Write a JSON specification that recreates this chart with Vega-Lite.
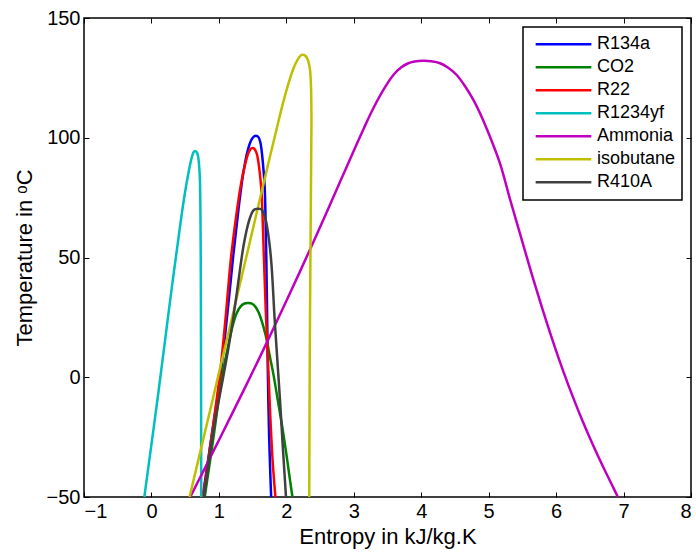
{
  "$schema": "https://vega.github.io/schema/vega-lite/v6.json",
  "width": 607,
  "height": 479,
  "autosize": {"type": "none"},
  "padding": {"left": 84, "top": 18, "right": 5, "bottom": 56},
  "background": "white",
  "config": {
    "font": "Liberation Sans",
    "view": {"stroke": "black", "strokeWidth": 1.5},
    "axis": {"grid": false, "domain": false, "tickColor": "black", "tickSize": -5, "tickWidth": 1, "labelColor": "black", "labelFontSize": 20, "labelFont": "Liberation Sans", "titleFont": "Liberation Sans", "titleFontWeight": "normal", "titleColor": "black", "titleFontSize": 22}
  },
  "data": {"values": [
    {"f":"R134a","i":0,"s":0.76,"T":-50},{"f":"R134a","i":1,"s":0.89,"T":-25},{"f":"R134a","i":2,"s":1.02,"T":0},{"f":"R134a","i":3,"s":1.12,"T":25},{"f":"R134a","i":4,"s":1.21,"T":50},{"f":"R134a","i":5,"s":1.29,"T":70},{"f":"R134a","i":6,"s":1.36,"T":85},{"f":"R134a","i":7,"s":1.43,"T":95},{"f":"R134a","i":8,"s":1.49,"T":99.5},{"f":"R134a","i":9,"s":1.52,"T":100.5},{"f":"R134a","i":10,"s":1.55,"T":100.8},{"f":"R134a","i":11,"s":1.585,"T":100.3},{"f":"R134a","i":12,"s":1.615,"T":98},{"f":"R134a","i":13,"s":1.64,"T":93},{"f":"R134a","i":14,"s":1.66,"T":87},{"f":"R134a","i":15,"s":1.678,"T":80},{"f":"R134a","i":16,"s":1.693,"T":65},{"f":"R134a","i":17,"s":1.703,"T":50},{"f":"R134a","i":18,"s":1.711,"T":35},{"f":"R134a","i":19,"s":1.718,"T":20},{"f":"R134a","i":20,"s":1.727,"T":0},{"f":"R134a","i":21,"s":1.745,"T":-25},{"f":"R134a","i":22,"s":1.762,"T":-40},{"f":"R134a","i":23,"s":1.775,"T":-50},

    {"f":"CO2","i":0,"s":0.79,"T":-50},{"f":"CO2","i":1,"s":0.92,"T":-25},{"f":"CO2","i":2,"s":1.045,"T":0},{"f":"CO2","i":3,"s":1.13,"T":12},{"f":"CO2","i":4,"s":1.2,"T":21},{"f":"CO2","i":5,"s":1.26,"T":26.5},{"f":"CO2","i":6,"s":1.32,"T":29.5},{"f":"CO2","i":7,"s":1.38,"T":30.8},{"f":"CO2","i":8,"s":1.436,"T":31},{"f":"CO2","i":9,"s":1.49,"T":30.7},{"f":"CO2","i":10,"s":1.54,"T":29.5},{"f":"CO2","i":11,"s":1.59,"T":27},{"f":"CO2","i":12,"s":1.64,"T":23},{"f":"CO2","i":13,"s":1.68,"T":19},{"f":"CO2","i":14,"s":1.71,"T":15.5},{"f":"CO2","i":15,"s":1.76,"T":8},{"f":"CO2","i":16,"s":1.81,"T":1},{"f":"CO2","i":17,"s":1.87,"T":-9},{"f":"CO2","i":18,"s":1.93,"T":-19},{"f":"CO2","i":19,"s":1.99,"T":-30},{"f":"CO2","i":20,"s":2.04,"T":-40},{"f":"CO2","i":21,"s":2.09,"T":-50},

    {"f":"R22","i":0,"s":0.765,"T":-50},{"f":"R22","i":1,"s":0.89,"T":-25},{"f":"R22","i":2,"s":1.01,"T":0},{"f":"R22","i":3,"s":1.1,"T":25},{"f":"R22","i":4,"s":1.18,"T":50},{"f":"R22","i":5,"s":1.26,"T":68},{"f":"R22","i":6,"s":1.33,"T":81},{"f":"R22","i":7,"s":1.39,"T":89},{"f":"R22","i":8,"s":1.44,"T":93.8},{"f":"R22","i":9,"s":1.47,"T":95.3},{"f":"R22","i":10,"s":1.496,"T":95.7},{"f":"R22","i":11,"s":1.525,"T":95.4},{"f":"R22","i":12,"s":1.56,"T":93.5},{"f":"R22","i":13,"s":1.59,"T":89},{"f":"R22","i":14,"s":1.615,"T":83},{"f":"R22","i":15,"s":1.635,"T":76},{"f":"R22","i":16,"s":1.65,"T":65},{"f":"R22","i":17,"s":1.665,"T":52},{"f":"R22","i":18,"s":1.68,"T":40},{"f":"R22","i":19,"s":1.695,"T":28},{"f":"R22","i":20,"s":1.715,"T":15},{"f":"R22","i":21,"s":1.735,"T":2},{"f":"R22","i":22,"s":1.76,"T":-15},{"f":"R22","i":23,"s":1.79,"T":-32},{"f":"R22","i":24,"s":1.815,"T":-42},{"f":"R22","i":25,"s":1.838,"T":-50},

    {"f":"R1234yf","i":0,"s":-0.105,"T":-50},{"f":"R1234yf","i":1,"s":0.0,"T":-28},{"f":"R1234yf","i":2,"s":0.1,"T":-7},{"f":"R1234yf","i":3,"s":0.2,"T":15},{"f":"R1234yf","i":4,"s":0.3,"T":37},{"f":"R1234yf","i":5,"s":0.4,"T":58},{"f":"R1234yf","i":6,"s":0.48,"T":74},{"f":"R1234yf","i":7,"s":0.55,"T":85.5},{"f":"R1234yf","i":8,"s":0.6,"T":92},{"f":"R1234yf","i":9,"s":0.625,"T":94},{"f":"R1234yf","i":10,"s":0.646,"T":94.5},{"f":"R1234yf","i":11,"s":0.67,"T":94},{"f":"R1234yf","i":12,"s":0.69,"T":92.5},{"f":"R1234yf","i":13,"s":0.705,"T":89},{"f":"R1234yf","i":14,"s":0.718,"T":83},{"f":"R1234yf","i":15,"s":0.726,"T":70},{"f":"R1234yf","i":16,"s":0.731,"T":50},{"f":"R1234yf","i":17,"s":0.734,"T":20},{"f":"R1234yf","i":18,"s":0.736,"T":-10},{"f":"R1234yf","i":19,"s":0.738,"T":-50},

    {"f":"Ammonia","i":0,"s":0.575,"T":-50},{"f":"Ammonia","i":1,"s":0.8,"T":-37.5},{"f":"Ammonia","i":2,"s":1.0,"T":-26.3},{"f":"Ammonia","i":3,"s":1.2,"T":-15},{"f":"Ammonia","i":4,"s":1.4,"T":-3.6},{"f":"Ammonia","i":5,"s":1.6,"T":8},{"f":"Ammonia","i":6,"s":1.8,"T":19.8},{"f":"Ammonia","i":7,"s":2.0,"T":31.8},{"f":"Ammonia","i":8,"s":2.2,"T":44},{"f":"Ammonia","i":9,"s":2.4,"T":56.4},{"f":"Ammonia","i":10,"s":2.6,"T":69},{"f":"Ammonia","i":11,"s":2.8,"T":81.8},{"f":"Ammonia","i":12,"s":3.0,"T":94.6},{"f":"Ammonia","i":13,"s":3.15,"T":104},{"f":"Ammonia","i":14,"s":3.29,"T":112.3},{"f":"Ammonia","i":15,"s":3.45,"T":120.5},{"f":"Ammonia","i":16,"s":3.587,"T":126.2},{"f":"Ammonia","i":17,"s":3.7,"T":129.3},{"f":"Ammonia","i":18,"s":3.8,"T":131},{"f":"Ammonia","i":19,"s":3.9,"T":131.8},{"f":"Ammonia","i":20,"s":4.03,"T":132.1},{"f":"Ammonia","i":21,"s":4.15,"T":131.9},{"f":"Ammonia","i":22,"s":4.279,"T":131.1},{"f":"Ammonia","i":23,"s":4.4,"T":129.2},{"f":"Ammonia","i":24,"s":4.526,"T":126.2},{"f":"Ammonia","i":25,"s":4.65,"T":121.5},{"f":"Ammonia","i":26,"s":4.773,"T":115.8},{"f":"Ammonia","i":27,"s":4.9,"T":108.5},{"f":"Ammonia","i":28,"s":5.02,"T":100.4},{"f":"Ammonia","i":29,"s":5.168,"T":89.3},{"f":"Ammonia","i":30,"s":5.32,"T":74},{"f":"Ammonia","i":31,"s":5.5,"T":56.5},{"f":"Ammonia","i":32,"s":5.65,"T":42},{"f":"Ammonia","i":33,"s":5.8,"T":28.2},{"f":"Ammonia","i":34,"s":5.95,"T":15.2},{"f":"Ammonia","i":35,"s":6.1,"T":3},{"f":"Ammonia","i":36,"s":6.25,"T":-8.3},{"f":"Ammonia","i":37,"s":6.4,"T":-18.8},{"f":"Ammonia","i":38,"s":6.55,"T":-28.5},{"f":"Ammonia","i":39,"s":6.7,"T":-37.6},{"f":"Ammonia","i":40,"s":6.85,"T":-46.2},{"f":"Ammonia","i":41,"s":6.915,"T":-50},

    {"f":"isobutane","i":0,"s":0.565,"T":-50},{"f":"isobutane","i":1,"s":0.78,"T":-24.5},{"f":"isobutane","i":2,"s":0.99,"T":0.5},{"f":"isobutane","i":3,"s":1.2,"T":25.5},{"f":"isobutane","i":4,"s":1.39,"T":48.2},{"f":"isobutane","i":5,"s":1.58,"T":71},{"f":"isobutane","i":6,"s":1.76,"T":92.5},{"f":"isobutane","i":7,"s":1.88,"T":106.5},{"f":"isobutane","i":8,"s":1.96,"T":115.5},{"f":"isobutane","i":9,"s":2.03,"T":122.5},{"f":"isobutane","i":10,"s":2.1,"T":128.5},{"f":"isobutane","i":11,"s":2.165,"T":132.5},{"f":"isobutane","i":12,"s":2.228,"T":134.6},{"f":"isobutane","i":13,"s":2.28,"T":134.3},{"f":"isobutane","i":14,"s":2.32,"T":132.5},{"f":"isobutane","i":15,"s":2.35,"T":128.5},{"f":"isobutane","i":16,"s":2.365,"T":122},{"f":"isobutane","i":17,"s":2.372,"T":110},{"f":"isobutane","i":18,"s":2.368,"T":90},{"f":"isobutane","i":19,"s":2.36,"T":60},{"f":"isobutane","i":20,"s":2.352,"T":30},{"f":"isobutane","i":21,"s":2.346,"T":0},{"f":"isobutane","i":22,"s":2.342,"T":-30},{"f":"isobutane","i":23,"s":2.34,"T":-50},

    {"f":"R410A","i":0,"s":0.78,"T":-50},{"f":"R410A","i":1,"s":0.92,"T":-22},{"f":"R410A","i":2,"s":1.057,"T":-1},{"f":"R410A","i":3,"s":1.14,"T":12},{"f":"R410A","i":4,"s":1.214,"T":25},{"f":"R410A","i":5,"s":1.27,"T":36},{"f":"R410A","i":6,"s":1.313,"T":45},{"f":"R410A","i":7,"s":1.36,"T":54},{"f":"R410A","i":8,"s":1.412,"T":61.5},{"f":"R410A","i":9,"s":1.46,"T":66.5},{"f":"R410A","i":10,"s":1.5,"T":69.2},{"f":"R410A","i":11,"s":1.53,"T":70.1},{"f":"R410A","i":12,"s":1.56,"T":70.3},{"f":"R410A","i":13,"s":1.61,"T":70.3},{"f":"R410A","i":14,"s":1.64,"T":69.8},{"f":"R410A","i":15,"s":1.67,"T":68},{"f":"R410A","i":16,"s":1.7,"T":65},{"f":"R410A","i":17,"s":1.73,"T":60},{"f":"R410A","i":18,"s":1.757,"T":54},{"f":"R410A","i":19,"s":1.78,"T":47},{"f":"R410A","i":20,"s":1.8,"T":38},{"f":"R410A","i":21,"s":1.825,"T":25},{"f":"R410A","i":22,"s":1.86,"T":10},{"f":"R410A","i":23,"s":1.906,"T":-9.5},{"f":"R410A","i":24,"s":1.95,"T":-30},{"f":"R410A","i":25,"s":1.995,"T":-50}
  ]},
  "layer": [
    {
      "mark": {"type": "line", "strokeWidth": 2.5, "interpolate": "catmull-rom", "clip": true},
      "encoding": {
        "x": {"field": "s", "type": "quantitative", "scale": {"domain": [-1, 8], "nice": false, "zero": false},
          "axis": {"orient": "bottom", "values": [-1,0,1,2,3,4,5,6,7,8], "title": "Entropy in kJ/kg.K", "labelPadding": 9, "titlePadding": 5}},
        "y": {"field": "T", "type": "quantitative", "scale": {"domain": [-50, 150], "nice": false, "zero": false},
          "axis": {"orient": "left", "values": [-50,0,50,100,150], "title": "Temperature in ᵒC", "labelPadding": 9, "titlePadding": 10}},
        "color": {"field": "f", "type": "nominal",
          "scale": {"domain": ["R134a","CO2","R22","R1234yf","Ammonia","isobutane","R410A"],
                    "range": ["#0000ff","#008000","#ff0000","#00bfbf","#bf00bf","#bfbf00","#404040"]},
          "legend": {"orient": "none", "legendX": 439, "legendY": 9, "title": null, "symbolType": "stroke", "symbolSize": 3100, "symbolStrokeWidth": 2.5,
            "labelFontSize": 18, "labelFont": "Liberation Sans", "labelColor": "black", "strokeColor": "black", "fillColor": "white",
            "padding": 6, "symbolOffset": 5, "labelOffset": 4, "clipHeight": 22.3, "rowPadding": 0, "labelLimit": 200,
            "encode": {"legend": {"update": {"strokeWidth": {"value": 1.5}}}}}},
        "order": {"field": "i", "type": "quantitative"}
      }
    },
    {
      "mark": {"type": "line", "opacity": 0},
      "encoding": {
        "x": {"field": "s", "type": "quantitative", "scale": {"domain": [-1, 8], "nice": false, "zero": false},
          "axis": {"orient": "top", "values": [-1,0,1,2,3,4,5,6,7,8], "labels": false, "title": null}},
        "y": {"field": "T", "type": "quantitative", "scale": {"domain": [-50, 150], "nice": false, "zero": false},
          "axis": {"orient": "right", "values": [-50,0,50,100,150], "labels": false, "title": null}},
        "detail": {"field": "f", "type": "nominal"},
        "order": {"field": "i", "type": "quantitative"}
      }
    }
  ],
  "resolve": {"scale": {"x": "independent", "y": "independent"}, "axis": {"x": "independent", "y": "independent"}}
}
